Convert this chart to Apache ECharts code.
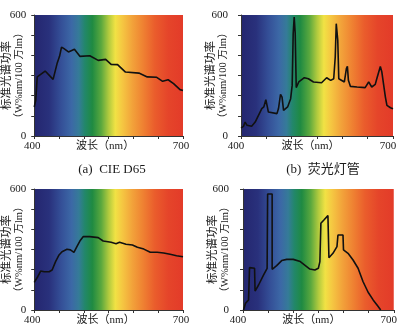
<!DOCTYPE html>
<html>
<head>
<meta charset="utf-8">
<script src="https://cdn.jsdelivr.net/npm/echarts@6/dist/echarts.min.js"></script>
<style>
  html, body { margin: 0; padding: 0; background: #fff; }
  #chart { width: 400px; height: 332px; }
</style>
</head>
<body>
<div id="chart"></div>
<script>
// Spectral power distributions, wavelength (nm) and relative power
const d65Nm    = [400, 403, 406, 407, 422, 438, 446, 451, 455, 460, 469, 481, 492, 512, 529, 544, 555, 568, 584, 611, 628, 647, 659, 670, 681, 694, 700];
const d65Power = [144, 177, 293, 296, 322, 281, 359, 395, 441, 433, 417, 430, 395, 398, 375, 380, 355, 354, 317, 312, 293, 291, 271, 279, 260, 230, 226];

const fluoNm    = [400, 405, 408, 412, 421, 428, 441, 445, 449, 452, 454, 471, 474, 478, 481, 484, 492, 498, 501, 503, 505, 507, 509, 514, 525, 533, 543, 559, 569, 577, 583, 586, 588, 591, 593, 604, 608, 610, 612, 616, 629, 645, 652, 658, 665, 668, 675, 678, 681, 685, 688, 695, 700];
const fluoPower = [40, 48, 69, 53, 48, 69, 136, 144, 180, 144, 119, 111, 136, 207, 193, 127, 144, 185, 251, 507, 590, 507, 240, 268, 289, 284, 268, 264, 289, 276, 284, 392, 557, 474, 284, 268, 334, 345, 276, 246, 243, 240, 268, 243, 256, 284, 345, 317, 263, 193, 152, 140, 135];

const sourceCNm    = [400, 407, 413, 420, 430, 436, 443, 450, 456, 466, 473, 480, 486, 492, 499, 512, 529, 539, 555, 565, 572, 585, 598, 608, 621, 634, 648, 661, 674, 687, 700];
const sourceCPower = [137, 165, 193, 190, 190, 198, 240, 273, 289, 301, 298, 286, 314, 342, 364, 364, 359, 342, 336, 329, 336, 326, 322, 311, 302, 286, 286, 283, 276, 269, 264];

const sourceDNm    = [401, 405, 411, 413, 413, 423, 424, 431, 441, 448, 449, 458, 458, 467, 477, 487, 500, 514, 533, 543, 550, 553, 555, 561, 569, 571, 579, 587, 589, 599, 600, 609, 619, 629, 639, 649, 659, 669, 674];
const sourceDPower = [0, 33, 50, 50, 210, 207, 94, 124, 174, 207, 575, 575, 202, 220, 245, 251, 251, 240, 203, 198, 207, 240, 430, 446, 468, 259, 281, 314, 372, 372, 298, 281, 248, 207, 140, 88, 50, 17, 0];

const xTickLabels = [400, 700];
const yTickLabels = [0, 600];
const captions = ['(a)  CIE D65', '(b)  荧光灯管'];
const xAxisTitle = '波长（nm）';
const yAxisTitle = ['标准光谱功率', '（W%nm/100 万lm）'];

const panels = [
  { nm: d65Nm, power: d65Power },
  { nm: fluoNm, power: fluoPower },
  { nm: sourceCNm, power: sourceCPower },
  { nm: sourceDNm, power: sourceDPower }
];

// plot-area layout for the 2 x 2 panels
const layout = [
  { left: 32,  top: 15,  width: 151, height: 121, labelMargin: 8,  nameGap: 8,  xShift: 4,  nameShift: 7 },
  { left: 241, top: 15,  width: 152, height: 121, labelMargin: 13, nameGap: 11, xShift: 10, nameShift: 13 },
  { left: 32,  top: 189, width: 151, height: 121, labelMargin: 8,  nameGap: 8,  xShift: 4,  nameShift: 6 },
  { left: 243, top: 189, width: 151, height: 121, labelMargin: 14, nameGap: 11, xShift: 10, nameShift: 14 }
];

const FONT = '"Liberation Serif", "Noto Sans CJK SC", serif';
const INK = '#1a1a1a';

// visible spectrum, violet to red
const spectrum = () => new echarts.graphic.LinearGradient(0, 0, 1, 0, [
  { offset: 0.00, color: '#24266f' },
  { offset: 0.10, color: '#29317c' },
  { offset: 0.18, color: '#344f97' },
  { offset: 0.25, color: '#3c68a6' },
  { offset: 0.30, color: '#357b98' },
  { offset: 0.34, color: '#22876a' },
  { offset: 0.39, color: '#1f8a42' },
  { offset: 0.45, color: '#5aa83e' },
  { offset: 0.50, color: '#b0ca3e' },
  { offset: 0.545, color: '#f1e244' },
  { offset: 0.59, color: '#f5c842' },
  { offset: 0.66, color: '#f2a23a' },
  { offset: 0.73, color: '#ef8232' },
  { offset: 0.81, color: '#ea5d2c' },
  { offset: 0.90, color: '#e5452a' },
  { offset: 1.00, color: '#e33b29' }
]);

const grid = layout.map(g => ({
  left: g.left, top: g.top, width: g.width, height: g.height,
  show: true, borderWidth: 0, backgroundColor: spectrum(), containLabel: false
}));

const xAxis = layout.map((g, i) => ({
  type: 'value', gridIndex: i, min: 400, max: 700, interval: 50,
  axisLine: { show: true, lineStyle: { color: '#333', width: 1 } },
  axisTick: { show: true, length: 3, lineStyle: { color: '#333' } },
  splitLine: { show: false },
  axisLabel: {
    margin: 5, fontSize: 11, fontFamily: FONT, color: INK, padding: [0, g.xShift, 0, 0],
    formatter: v => xTickLabels.includes(v) ? String(v) : ''
  },
  name: xAxisTitle, nameLocation: 'middle', nameGap: 5, nameMoveOverlap: false,
  nameTextStyle: { fontSize: 11, fontFamily: FONT, color: INK, padding: [0, g.nameShift, 0, 0] }
}));

const yAxis = layout.map((g, i) => ({
  type: 'value', gridIndex: i, min: 0, max: 600, interval: 100,
  axisLine: { show: true, lineStyle: { color: '#333', width: 1 } },
  axisTick: { show: true, length: 3, lineStyle: { color: '#333' } },
  splitLine: { show: false },
  axisLabel: {
    margin: g.labelMargin, fontSize: 11, fontFamily: FONT, color: INK,
    formatter: v => yTickLabels.includes(v) ? String(v) : ''
  },
  name: '{a|' + yAxisTitle[0] + '}\n{b|' + yAxisTitle[1] + '}',
  nameLocation: 'middle', nameGap: g.nameGap, nameMoveOverlap: false,
  nameTextStyle: {
    fontFamily: FONT, color: INK,
    rich: {
      a: { fontSize: 11.5, lineHeight: 13, fontFamily: FONT, color: INK },
      b: { fontSize: 10.5, lineHeight: 13, fontFamily: FONT, color: INK }
    }
  }
}));

const series = panels.map((p, i) => ({
  type: 'line', xAxisIndex: i, yAxisIndex: i,
  data: p.nm.map((x, k) => [x, p.power[k]]),
  showSymbol: false, smooth: false,
  lineStyle: { color: '#111', width: 1.6 },
  animation: false
}));

const title = [
  { text: captions[0], left: 107, top: 158, textAlign: 'center',
    textStyle: { fontSize: 13, fontWeight: 'normal', fontFamily: FONT, color: INK } },
  { text: captions[1], left: 318, top: 158, textAlign: 'center',
    textStyle: { fontSize: 13, fontWeight: 'normal', fontFamily: FONT, color: INK } }
];

const chart = echarts.init(document.getElementById('chart'), null, { renderer: 'canvas' });
chart.setOption({ animation: false, title, grid, xAxis, yAxis, series });
</script>
</body>
</html>
